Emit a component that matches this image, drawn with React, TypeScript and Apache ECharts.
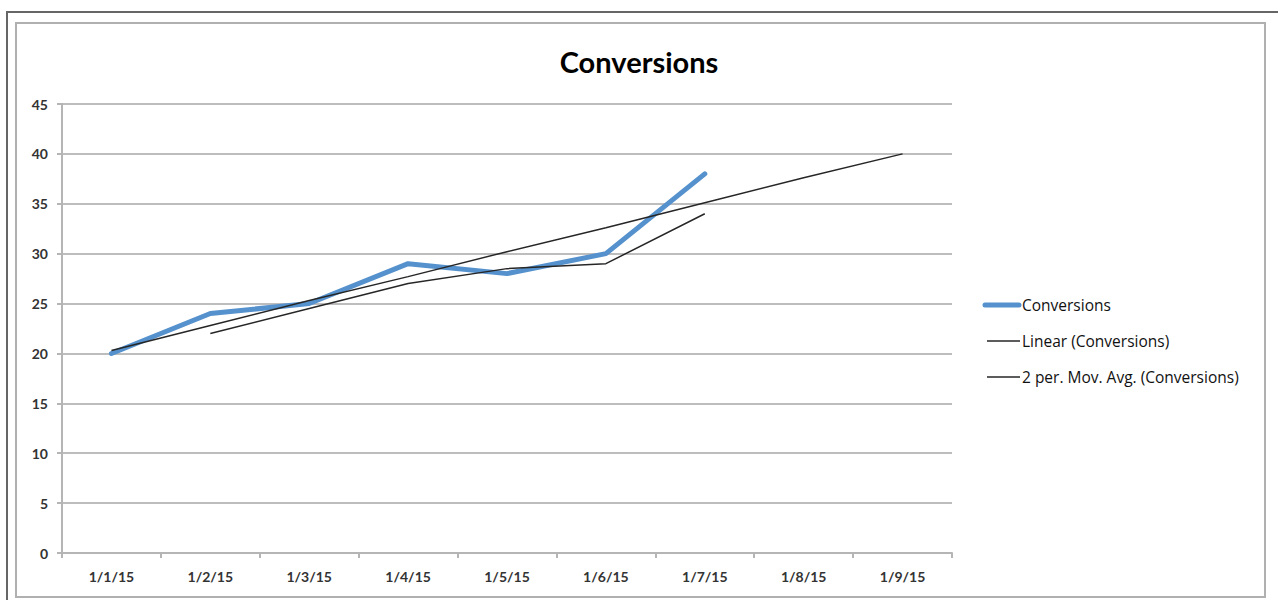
import React, { useEffect, useRef } from "react";
import * as echarts from "echarts";

const categories = ["1/1/15", "1/2/15", "1/3/15", "1/4/15", "1/5/15", "1/6/15", "1/7/15", "1/8/15", "1/9/15"];
const conversions: (number | null)[] = [20, 24, 25, 29, 28, 30, 38, null, null];
const linearTrend: number[] = [20.3, 22.8, 25.3, 27.7, 30.2, 32.6, 35.1, 37.6, 40.0];
const movingAvg: (number | null)[] = [null, 22, 24.5, 27, 28.5, 29, 34, null, null];
const yTicks = { min: 0, max: 45, interval: 5 };
const legendNames = ["Conversions", "Linear (Conversions)", "2 per. Mov. Avg. (Conversions)"];

const FONT = "Lato, 'Open Sans', 'Liberation Sans', sans-serif";
const LEGEND_FONT = "'Open Sans', Lato, sans-serif";
const BLUE = "#5591cd";
const DARK = "#262626";

export default function App() {
  const ref = useRef<HTMLDivElement>(null);
  useEffect(() => {
    if (!ref.current) return;
    const chart = echarts.init(ref.current, null, { renderer: "svg" });
    chart.setOption({
      animation: false,
      backgroundColor: "#ffffff",
      graphic: [
        { type: "rect", shape: { x: 7, y: 12, width: 1280, height: 600 }, style: { fill: "none", stroke: "#666666", lineWidth: 2 }, silent: true },
        { type: "rect", shape: { x: 16, y: 23, width: 1249, height: 574 }, style: { fill: "none", stroke: "#b0b0b0", lineWidth: 2 }, silent: true },
        { type: "line", shape: { x1: 985, y1: 305, x2: 1019, y2: 305 }, style: { stroke: BLUE, lineWidth: 5, lineCap: "round" }, silent: true },
        { type: "line", shape: { x1: 987, y1: 341, x2: 1020, y2: 341 }, style: { stroke: DARK, lineWidth: 1.5 }, silent: true },
        { type: "line", shape: { x1: 987, y1: 377, x2: 1020, y2: 377 }, style: { stroke: DARK, lineWidth: 1.5 }, silent: true },
      ],
      title: {
        text: "Conversions",
        left: "center",
        top: 42,
        textStyle: { fontFamily: FONT, fontSize: 29, fontWeight: "bold", color: "#000000" },
      },
      legend: {
        orient: "vertical",
        left: 976,
        top: 291,
        itemWidth: 36,
        itemHeight: 18,
        itemGap: 19,
        icon: "none",
        textStyle: { fontFamily: LEGEND_FONT, fontSize: 15.5, color: "#111111" },
        data: legendNames,
      },
      grid: { left: 62, right: 326, top: 104, bottom: 47, containLabel: false },
      xAxis: {
        type: "category",
        data: categories,
        boundaryGap: true,
        axisLine: { show: true, lineStyle: { color: "#b5b5b5", width: 2 } },
        axisTick: { show: true, length: 5, interval: 0, lineStyle: { color: "#b5b5b5", width: 2 } },
        axisLabel: { margin: 16, fontFamily: FONT, fontSize: 14, fontWeight: "bold", color: "#333333", interval: 0 },
        splitLine: { show: false },
      },
      yAxis: {
        type: "value",
        min: yTicks.min,
        max: yTicks.max,
        interval: yTicks.interval,
        axisLine: { show: true, lineStyle: { color: "#b5b5b5", width: 2 } },
        axisTick: { show: true, length: 5, lineStyle: { color: "#b5b5b5", width: 2 } },
        axisLabel: { margin: 14, fontFamily: FONT, fontSize: 14, fontWeight: "bold", color: "#333333" },
        splitLine: { show: true, lineStyle: { color: "#bdbdbd", width: 2 } },
      },
      series: [
        {
          name: legendNames[0],
          type: "line",
          data: conversions,
          symbol: "none",
          lineStyle: { color: BLUE, width: 5, cap: "round", join: "round" },
          itemStyle: { color: BLUE },
          z: 3,
        },
        {
          name: legendNames[1],
          type: "line",
          data: linearTrend,
          symbol: "none",
          lineStyle: { color: DARK, width: 1.5 },
          itemStyle: { color: DARK },
          z: 4,
        },
        {
          name: legendNames[2],
          type: "line",
          data: movingAvg,
          symbol: "none",
          lineStyle: { color: DARK, width: 1.5 },
          itemStyle: { color: DARK },
          z: 4,
        },
      ],
    });
    return () => chart.dispose();
  }, []);
  return (
    <div style={{ position: "absolute", left: 0, top: 0, width: 1278, height: 600 }}>
      <div ref={ref} style={{ width: 1278, height: 600 }} />
    </div>
  );
}
